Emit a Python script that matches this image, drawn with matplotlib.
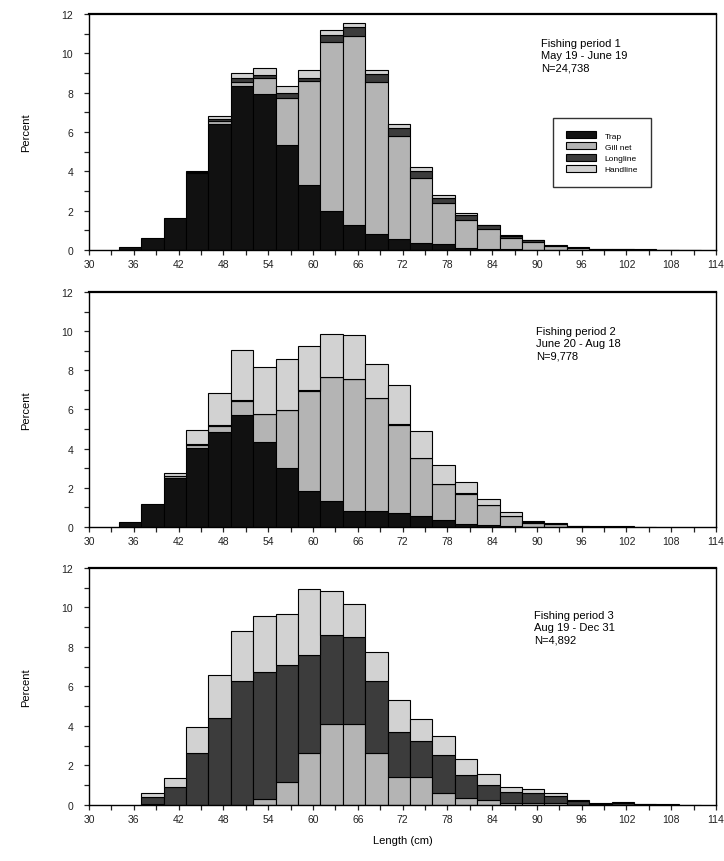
import numpy as np
import matplotlib.pyplot as plt
from matplotlib.patches import Patch

plt.rcParams['font.family'] = ['Liberation Sans', 'DejaVu Sans']

# bin left edges (cm), 3 cm bins
edges = np.arange(34, 112, 3)

gear = ['Trap', 'Gill net', 'Longline', 'Handline']
colors = ['#111111', '#b4b4b4', '#3c3c3c', '#d2d2d2']

# Fishing period 1 (percent)
trap1 = [0.17, 0.61, 1.65, 3.9, 6.4, 8.32, 7.93, 5.35, 3.31, 1.97, 1.26, 0.83, 0.54,
         0.37, 0.29, 0.12, 0.05, 0.03, 0.02, 0.01, 0.01, 0, 0, 0, 0, 0]
gill1 = [0, 0, 0, 0.05, 0.15, 0.24, 0.8, 2.38, 5.26, 8.62, 9.64, 7.69, 5.26,
         3.3, 2.09, 1.41, 1.0, 0.6, 0.4, 0.18, 0.1, 0.04, 0.03, 0.02, 0.01, 0.01]
long1 = [0, 0, 0, 0.03, 0.1, 0.2, 0.17, 0.24, 0.2, 0.34, 0.42, 0.42, 0.42,
         0.34, 0.24, 0.25, 0.2, 0.1, 0.08, 0.05, 0.03, 0.02, 0.01, 0.01, 0.01, 0]
hand1 = [0, 0, 0, 0.05, 0.15, 0.24, 0.37, 0.39, 0.39, 0.27, 0.22, 0.22, 0.2,
         0.22, 0.17, 0.08, 0.04, 0.02, 0.01, 0, 0, 0, 0, 0, 0, 0]

# Fishing period 2
trap2 = [0.25, 1.19, 2.5, 4.04, 4.84, 5.72, 4.33, 3.0, 1.82, 1.31, 0.8, 0.8, 0.73,
         0.56, 0.34, 0.17, 0.08, 0.04, 0.02, 0.01, 0, 0, 0, 0, 0, 0]
gill2 = [0, 0, 0.1, 0.17, 0.34, 0.73, 1.44, 2.97, 5.14, 6.33, 6.76, 5.79, 4.5,
         2.95, 1.83, 1.53, 1.03, 0.5, 0.2, 0.12, 0.03, 0.02, 0.02, 0.01, 0, 0]
long2 = [0, 0, 0.02, 0.05, 0.03, 0.03, 0.02, 0.02, 0.02, 0.02, 0.02, 0.02, 0.02,
         0.02, 0.02, 0.02, 0.02, 0.02, 0.01, 0.01, 0, 0, 0, 0, 0, 0]
hand2 = [0, 0, 0.15, 0.7, 1.65, 2.55, 2.38, 2.6, 2.26, 2.17, 2.2, 1.73, 1.99,
         1.36, 0.97, 0.59, 0.3, 0.2, 0.06, 0.04, 0.01, 0.01, 0.01, 0, 0, 0]

# Fishing period 3
trap3 = [0] * 26
gill3 = [0, 0.05, 0, 0, 0, 0, 0.29, 1.17, 2.62, 4.09, 4.09, 2.62, 1.42,
         1.42, 0.59, 0.37, 0.24, 0.1, 0.1, 0.08, 0.02, 0.01, 0.02, 0, 0, 0]
long3 = [0, 0.35, 0.93, 2.62, 4.4, 6.29, 6.43, 5.92, 4.99, 4.52, 4.4, 3.67, 2.28,
         1.83, 1.95, 1.13, 0.76, 0.55, 0.5, 0.35, 0.2, 0.06, 0.1, 0.04, 0.02, 0.01]
hand3 = [0, 0.19, 0.46, 1.34, 2.2, 2.54, 2.84, 2.59, 3.33, 2.2, 1.66, 1.47, 1.61,
         1.1, 0.96, 0.81, 0.56, 0.28, 0.23, 0.2, 0.04, 0.02, 0.03, 0.01, 0.01, 0]

periods = [
    ("Fishing period 1\nMay 19 - June 19\nN=24,738", [trap1, gill1, long1, hand1]),
    ("Fishing period 2\nJune 20 - Aug 18\nN=9,778", [trap2, gill2, long2, hand2]),
    ("Fishing period 3\nAug 19 - Dec 31\nN=4,892", [trap3, gill3, long3, hand3]),
]
text_pos = [(0.721, 0.898), (0.713, 0.855), (0.71, 0.823)]
ax_rects = [(0.123, 0.7088, 0.866, 0.2738),
            (0.123, 0.3875, 0.866, 0.2726),
            (0.123, 0.065, 0.866, 0.2750)]

fig = plt.figure(figsize=(7.24, 8.62), dpi=100)

for i, (label, series) in enumerate(periods):
    ax = fig.add_axes(ax_rects[i])
    bottom = np.zeros(len(edges))
    for vals, c in zip(series, colors):
        vals = np.array(vals, dtype=float)
        mask = vals > 0
        ax.bar(edges[mask], vals[mask], width=3, bottom=bottom[mask], align='edge',
               color=c, edgecolor='black', linewidth=0.8)
        bottom += vals
    ax.set_xlim(30, 114)
    ax.set_ylim(0, 12)
    ax.set_xticks(np.arange(30, 115, 6))
    ax.set_xticks(np.arange(30, 115, 3), minor=True)
    ax.set_yticks(np.arange(0, 13, 2))
    ax.set_yticks(np.arange(0, 13, 1), minor=True)
    ax.tick_params(axis='both', which='both', direction='out', length=3.5,
                   width=0.9, labelsize=7.5, colors='#222222')
    ax.tick_params(axis='y', which='major', pad=8)
    ax.tick_params(axis='x', which='major', pad=3)
    ax.set_ylabel('Percent', fontsize=8, labelpad=22)
    for s in ax.spines.values():
        s.set_linewidth(1.0)
    ax.spines['top'].set_linewidth(1.6)
    ax.text(text_pos[i][0], text_pos[i][1], label, transform=ax.transAxes,
            fontsize=8, va='top', ha='left', linespacing=1.3)
    if i == 0:
        handles = [Patch(facecolor=c, edgecolor='black', linewidth=0.8) for c in colors]
        ax.legend(handles, gear, loc='upper left', bbox_to_anchor=(0.74, 0.56),
                  fontsize=6, frameon=True, fancybox=False, edgecolor='black',
                  borderpad=1.6, handlelength=3.6, handleheight=0.9,
                  labelspacing=0.35, handletextpad=1.0, borderaxespad=0)
    if i == 2:
        ax.set_xlabel('Length (cm)', fontsize=8, labelpad=8)

fig.savefig('out.png', dpi=100)
